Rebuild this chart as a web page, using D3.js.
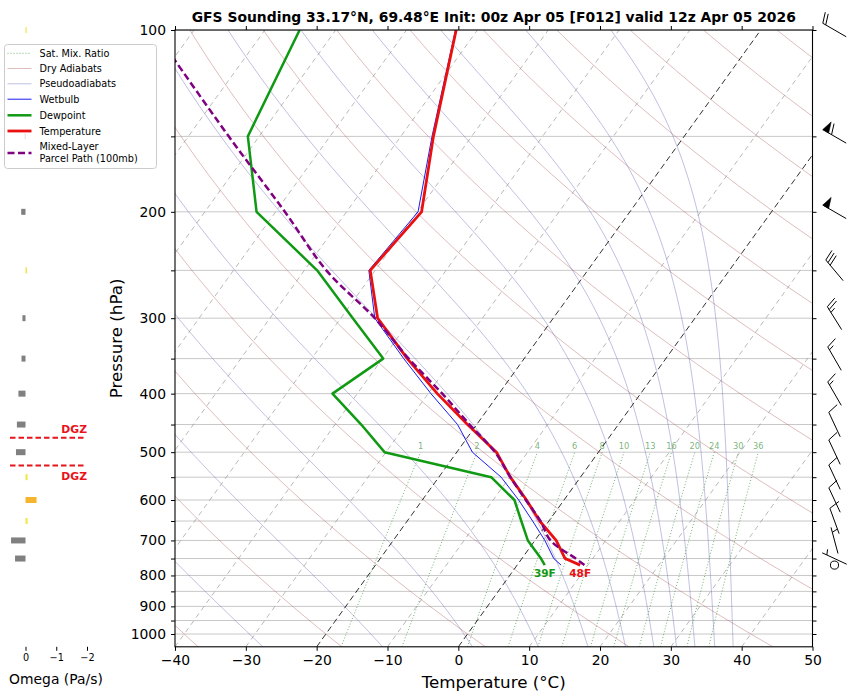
<!DOCTYPE html>
<html>
<head>
<meta charset="utf-8">
<script src="https://cdn.jsdelivr.net/npm/d3@7"></script>
<style>
  body { margin: 0; background: #fff; }
  text { font-family: "DejaVu Sans", sans-serif; }
</style>
</head>
<body>
<svg id="chart" width="850" height="697"></svg>
<script>
// ---- sounding values ----
const levels   = [100, 150, 200, 250, 300, 350, 400, 450, 500, 550, 600, 650, 700, 750, 769];
const tempC    = [-63.0, -55.4, -49.4, -50.7, -44.8, -36.5, -28.7, -21.3, -14.4, -9.9, -5.3, -1.3, 3.0, 6.1, 8.9];
const dewC     = [-85.1, -81.6, -72.7, -58.2, -48.3, -39.9, -43.5, -36.3, -30.2, -12.6, -7.0, -3.9, -1.0, 2.7, 3.9];
const wetbulbC = [-63.1, -55.6, -49.9, -50.9, -45.2, -37.0, -29.6, -22.7, -17.8, -11.2, -6.4, -2.3, 1.4, 4.5, 6.2];

// mixed-layer parcel path
const parcelP = [769, 750, 700, 650, 600, 550, 500, 450, 400, 350, 300, 250, 200, 150, 100];
const parcelT = [9.5, 7.6, 2.2, -1.2, -5.4, -9.9, -14.6, -21.0, -28.0, -36.3, -45.2, -56.9, -68.7, -84.3, -105.7];

// winds (kt, direction from)
const windP   = [100, 150, 200, 250, 300, 350, 400, 450, 500, 550, 600, 650, 700, 750, 769];
const windKt  = [20, 60, 50, 30, 25, 15, 15, 10, 10, 10, 10, 10, 5, 5, 0];
const windDir = [300, 300, 300, 320, 328, 330, 330, 335, 335, 335, 335, 340, 345, 295, 0];

// omega (Pa/s)
const omegaP  = [100, 150, 200, 250, 300, 350, 400, 450, 500, 550, 600, 650, 700, 750];
const omegaPa = [-0.03, 0.03, 0.14, -0.05, 0.10, 0.13, 0.23, 0.28, 0.31, -0.07, -0.36, -0.07, 0.47, 0.34];

// background line sets
const dryT0      = d3.range(-40, 241, 20);              // degC at 1000 hPa
const pseudoBase = [-27.6, -10.7, 2.0, 11.3, 18.3, 23.6, 27.6, 30.8, 33.4, 36.2, 38.8]; // degC at 1050 hPa
const mixRatios  = [1, 2, 4, 6, 8, 10, 13, 16, 20, 24, 30, 36];  // g/kg
const isotherms  = d3.range(-130, 51, 10);
const dgzBounds  = [-12, -18];

const xTicks = d3.range(-40, 51, 10);
const pMajor = [100, 200, 300, 400, 500, 600, 700, 800, 900, 1000];
const pAll   = d3.range(100, 1001, 50);

const titleText = "GFS Sounding 33.17\u00B0N, 69.48\u00B0E Init: 00z Apr 05 [F012] valid 12z Apr 05 2026";

// ---- geometry ----
const box = { left: 175, right: 812.5, top: 30, bottom: 646.8 };
const skewK = 0.72;

const x = d3.scaleLinear().domain([-40, 50]).range([box.left, box.right]);
const y = d3.scaleLog().domain([1050, 100]).range([box.bottom, box.top]);
const sx = (t, p) => x(t) + skewK * (box.bottom - y(p));

const svg = d3.select("#chart");

svg.append("defs").append("clipPath").attr("id", "plotClip")
  .append("rect")
  .attr("x", box.left).attr("y", box.top)
  .attr("width", box.right - box.left).attr("height", box.bottom - box.top);

const plot = svg.append("g").attr("clip-path", "url(#plotClip)");

const skewLine = d3.line().x(d => sx(d[1], d[0])).y(d => y(d[0]));
const pLog = d3.range(0, 121).map(i => 1050 * Math.pow(100 / 1050, i / 120));

// horizontal grid
plot.selectAll(".grid").data(pAll).enter().append("line")
  .attr("x1", box.left).attr("x2", box.right)
  .attr("y1", d => y(d)).attr("y2", d => y(d))
  .attr("stroke", "#c8c8c8").attr("stroke-width", 1);

// dry adiabats
plot.selectAll(".dry").data(dryT0).enter().append("path")
  .attr("d", t0 => skewLine(pLog.map(p => [p, (t0 + 273.15) * Math.pow(p / 1000, 0.2857) - 273.15])))
  .attr("fill", "none").attr("stroke", "#b05a5a").attr("stroke-opacity", 0.5).attr("stroke-width", 0.8);

// pseudoadiabats
function dTdp(p, T) {
  const es = 6.112 * Math.exp(17.67 * (T - 273.15) / (T - 29.65));
  const rs = 0.622 * es / (p - es);
  return (287.04 * T + 2.501e6 * rs) / (1005.7 + 2.501e6 * 2.501e6 * rs * 0.622 / (287.04 * T * T)) / p;
}
function moistPath(tStart) {
  const out = [];
  let T = tStart + 273.15, p = 1050;
  const n = 240, dp = (100 - 1050) / n;
  out.push([p, T - 273.15]);
  for (let i = 0; i < n; i++) {
    const k1 = dTdp(p, T),
          k2 = dTdp(p + dp / 2, T + dp / 2 * k1),
          k3 = dTdp(p + dp / 2, T + dp / 2 * k2),
          k4 = dTdp(p + dp, T + dp * k3);
    T += dp / 6 * (k1 + 2 * k2 + 2 * k3 + k4);
    p += dp;
    out.push([p, T - 273.15]);
  }
  return out;
}
plot.selectAll(".moist").data(pseudoBase).enter().append("path")
  .attr("d", t => skewLine(moistPath(t)))
  .attr("fill", "none").attr("stroke", "#6262b4").attr("stroke-opacity", 0.5).attr("stroke-width", 0.8);

// mixing ratio lines
const tdFromW = (w, p) => {
  const e = p * (w / 1000) / (0.622 + w / 1000);
  const l = Math.log(e / 6.112);
  return 243.5 * l / (17.67 - l);
};
const pMix = d3.range(0, 41).map(i => 1050 * Math.pow(500 / 1050, i / 40));
plot.selectAll(".mix").data(mixRatios).enter().append("path")
  .attr("d", w => skewLine(pMix.map(p => [p, tdFromW(w, p)])))
  .attr("fill", "none").attr("stroke", "#2e8b2e").attr("stroke-opacity", 0.75)
  .attr("stroke-width", 0.9).attr("stroke-dasharray", "1,2");

plot.selectAll(".mixlab").data(mixRatios).enter().append("text")
  .attr("x", w => sx(tdFromW(w, 500), 500))
  .attr("y", y(500) - 3)
  .attr("text-anchor", "middle")
  .attr("font-size", "8.3px")
  .attr("fill", "#2e8b2e").attr("fill-opacity", 0.65)
  .text(w => w);

// isotherms
plot.selectAll(".iso").data(isotherms).enter().append("line")
  .attr("x1", t => sx(t, 1050)).attr("y1", y(1050))
  .attr("x2", t => sx(t, 100)).attr("y2", y(100))
  .attr("stroke", t => (t === 0 || t === -20) ? "#000" : "#8a8a8a")
  .attr("stroke-opacity", t => (t === 0 || t === -20) ? 0.9 : 0.75)
  .attr("stroke-width", t => (t === 0 || t === -20) ? 0.9 : 0.8)
  .attr("stroke-dasharray", t => (t === 0 || t === -20) ? "6,3.5" : "5,4");

// profiles
const profile = vals => levels.map((p, i) => [p, vals[i]]);

plot.append("path").attr("d", skewLine(profile(wetbulbC)))
  .attr("fill", "none").attr("stroke", "#0000ee").attr("stroke-width", 0.9);
plot.append("path").attr("d", skewLine(profile(dewC)))
  .attr("fill", "none").attr("stroke", "#109a14").attr("stroke-width", 2.5).attr("stroke-linejoin", "round");
plot.append("path").attr("d", skewLine(profile(tempC)))
  .attr("fill", "none").attr("stroke", "#ea1010").attr("stroke-width", 2.8).attr("stroke-linejoin", "round");
plot.append("path")
  .attr("d", d3.line().curve(d3.curveCatmullRom).x(d => sx(d[1], d[0])).y(d => y(d[0]))(parcelP.map((p, i) => [p, parcelT[i]])))
  .attr("fill", "none").attr("stroke", "#800080").attr("stroke-width", 2.5).attr("stroke-dasharray", "7,3.5");

// surface labels
const sfc = levels.length - 1;
const toF = c => Math.round(c * 9 / 5 + 32) + "F";
svg.append("text")
  .attr("x", sx(dewC[sfc], levels[sfc])).attr("y", y(levels[sfc]) + 12)
  .attr("text-anchor", "middle").attr("font-size", "10.5px").attr("font-weight", "bold")
  .attr("fill", "#109a14").text(toF(dewC[sfc]));
svg.append("text")
  .attr("x", sx(tempC[sfc], levels[sfc])).attr("y", y(levels[sfc]) + 12)
  .attr("text-anchor", "middle").attr("font-size", "10.5px").attr("font-weight", "bold")
  .attr("fill", "#ea1010").text(toF(tempC[sfc]));

// ---- axes ----
const styleAxis = g => {
  g.select(".domain").remove();
  g.selectAll(".tick line").attr("stroke", "#000").attr("stroke-width", 1);
  g.selectAll(".tick text").attr("fill", "#000").attr("font-family", "DejaVu Sans, sans-serif").attr("font-size", "13.9px");
};

svg.append("g").attr("transform", `translate(0,${box.bottom})`)
  .call(d3.axisBottom(x).tickValues(xTicks).tickSize(4).tickPadding(4)).call(styleAxis);
svg.append("g").attr("transform", `translate(0,${box.top})`)
  .call(d3.axisTop(x).tickValues(xTicks).tickSize(4).tickFormat("")).call(styleAxis);
svg.append("g").attr("transform", `translate(${box.left},0)`)
  .call(d3.axisLeft(y).tickValues(pAll).tickSize(4).tickPadding(5)
    .tickFormat(d => pMajor.includes(d) ? d : "")).call(styleAxis);
svg.append("g").attr("transform", `translate(${box.right},0)`)
  .call(d3.axisRight(y).tickValues(pAll).tickSize(4).tickFormat("")).call(styleAxis);

svg.append("rect")
  .attr("x", box.left).attr("y", box.top)
  .attr("width", box.right - box.left).attr("height", box.bottom - box.top)
  .attr("fill", "none").attr("stroke", "#000").attr("stroke-width", 1.1);

svg.append("text")
  .attr("x", (box.left + box.right) / 2).attr("y", 688)
  .attr("text-anchor", "middle").attr("font-size", "16.7px")
  .text("Temperature (\u00B0C)");
svg.append("text")
  .attr("transform", `translate(122,${(box.top + box.bottom) / 2}) rotate(-90)`)
  .attr("text-anchor", "middle").attr("font-size", "16.7px")
  .text("Pressure (hPa)");
svg.append("text")
  .attr("x", (box.left + box.right) / 2).attr("y", 21.5)
  .attr("text-anchor", "middle").attr("font-size", "13.9px").attr("font-weight", "bold")
  .text(titleText);

// ---- wind barbs ----
const barbX = 834.5, L = 27;
const barbs = svg.append("g");
function drawBarb(cy, spd, dir) {
  if (spd < 5) {
    barbs.append("circle").attr("cx", barbX).attr("cy", cy).attr("r", 0.15 * L)
      .attr("fill", "none").attr("stroke", "#000").attr("stroke-width", 1);
    return;
  }
  const r5 = Math.round(spd / 5) * 5;
  const nFlag = Math.floor(r5 / 50), nBarb = Math.floor((r5 % 50) / 10), half = (r5 % 10) >= 5;
  const rad = dir * Math.PI / 180;
  const d = [Math.sin(rad), -Math.cos(rad)], rt = [Math.cos(rad), Math.sin(rad)];
  const h = 0.4 * L, w = 0.25 * L, sp = 0.125 * L;
  const tip = [barbX + d[0] * L / 2, cy + d[1] * L / 2];
  const base = [barbX - d[0] * L / 2, cy - d[1] * L / 2];
  const at = o => [tip[0] - d[0] * o, tip[1] - d[1] * o];
  barbs.append("line").attr("x1", base[0]).attr("y1", base[1]).attr("x2", tip[0]).attr("y2", tip[1])
    .attr("stroke", "#000").attr("stroke-width", 1);
  let o = 0;
  for (let i = 0; i < nFlag; i++) {
    if (o > 0) o += sp / 2;
    const a = at(o), c = at(o + w);
    const apex = [a[0] + rt[0] * h - d[0] * w / 2, a[1] + rt[1] * h - d[1] * w / 2];
    barbs.append("path").attr("d", `M${a}L${apex}L${c}Z`).attr("fill", "#000").attr("stroke", "#000").attr("stroke-width", 0.6);
    o += w + sp;
  }
  for (let i = 0; i < nBarb; i++) {
    const a = at(o);
    barbs.append("line").attr("x1", a[0]).attr("y1", a[1])
      .attr("x2", a[0] + rt[0] * h + d[0] * w / 2).attr("y2", a[1] + rt[1] * h + d[1] * w / 2)
      .attr("stroke", "#000").attr("stroke-width", 1);
    o += sp;
  }
  if (half) {
    if (o === 0) o += 1.5 * sp;
    const a = at(o);
    barbs.append("line").attr("x1", a[0]).attr("y1", a[1])
      .attr("x2", a[0] + rt[0] * h / 2 + d[0] * w / 4).attr("y2", a[1] + rt[1] * h / 2 + d[1] * w / 4)
      .attr("stroke", "#000").attr("stroke-width", 1);
  }
}
windP.forEach((p, i) => drawBarb(y(p), windKt[i], windDir[i]));

// ---- omega panel ----
const xo = d3.scaleLinear().domain([0, -2]).range([25.5, 87]);
const omegaColor = v => v >= 0 ? "#808080" : (v > -0.1 ? "#f0e84a" : "#f6b52e");
const omega = svg.append("g");
omega.selectAll("rect").data(omegaP).enter().append("rect")
  .attr("x", (p, i) => Math.min(xo(0), xo(omegaPa[i])))
  .attr("y", p => y(p) - 3)
  .attr("width", (p, i) => Math.max(1.2, Math.abs(xo(omegaPa[i]) - xo(0))))
  .attr("height", 6)
  .attr("fill", (p, i) => omegaColor(omegaPa[i]));

omega.append("g").attr("transform", `translate(0,${box.bottom})`)
  .call(d3.axisBottom(xo).tickValues([0, -1, -2]).tickSize(4).tickPadding(3).tickFormat(d3.format("d")))
  .call(styleAxis)
  .selectAll(".tick text").attr("font-size", "9.7px");
omega.append("text").attr("x", 56).attr("y", 684).attr("text-anchor", "middle")
  .attr("font-size", "13.9px").text("Omega (Pa/s)");

// dendritic growth zone
function pAtTemp(tc) {
  for (let i = levels.length - 1; i > 0; i--) {
    const t1 = tempC[i], t2 = tempC[i - 1];
    if ((t1 - tc) * (t2 - tc) <= 0 && t1 !== t2) {
      const f = (tc - t1) / (t2 - t1);
      return Math.exp(Math.log(levels[i]) + f * (Math.log(levels[i - 1]) - Math.log(levels[i])));
    }
  }
  return null;
}
dgzBounds.forEach((tc, i) => {
  const yy = y(pAtTemp(tc));
  omega.append("line").attr("x1", 10).attr("x2", 86).attr("y1", yy).attr("y2", yy)
    .attr("stroke", "#e8141c").attr("stroke-width", 2.2).attr("stroke-dasharray", "5.5,3");
  omega.append("text").attr("x", 87).attr("y", i === 0 ? yy + 14 : yy - 5)
    .attr("text-anchor", "end").attr("font-size", "10.8px").attr("font-weight", "bold")
    .attr("fill", "#e8141c").text("DGZ");
});

// ---- legend ----
const legendItems = [
  { label: ["Sat. Mix. Ratio"], stroke: "#2e8b2e", width: 0.9, dash: "1,2", opacity: 0.75 },
  { label: ["Dry Adiabats"], stroke: "#b05a5a", width: 0.8, dash: null, opacity: 0.5 },
  { label: ["Pseudoadiabats"], stroke: "#6262b4", width: 0.8, dash: null, opacity: 0.5 },
  { label: ["Wetbulb"], stroke: "#0000ee", width: 0.9, dash: null, opacity: 1 },
  { label: ["Dewpoint"], stroke: "#109a14", width: 2.5, dash: null, opacity: 1 },
  { label: ["Temperature"], stroke: "#ea1010", width: 2.8, dash: null, opacity: 1 },
  { label: ["Mixed-Layer", "Parcel Path (100mb)"], stroke: "#800080", width: 2.5, dash: "7,3.5", opacity: 1 }
];
const legend = svg.append("g");
legend.append("rect").attr("x", 4.5).attr("y", 44.5).attr("width", 152).attr("height", 124).attr("rx", 3)
  .attr("fill", "#fff").attr("fill-opacity", 0.8).attr("stroke", "#cccccc").attr("stroke-width", 1);
const rowY = [53.3, 68.5, 83.8, 99.2, 115.3, 131, 153];
legendItems.forEach((it, i) => {
  legend.append("line").attr("x1", 7.5).attr("x2", 31.5).attr("y1", rowY[i]).attr("y2", rowY[i])
    .attr("stroke", it.stroke).attr("stroke-width", it.width).attr("stroke-opacity", it.opacity)
    .attr("stroke-dasharray", it.dash);
  const t = legend.append("text").attr("x", 39.5).attr("font-size", "9.7px").attr("fill", "#000");
  if (it.label.length === 1) {
    t.attr("y", rowY[i] + 3.5).text(it.label[0]);
  } else {
    t.attr("y", rowY[i] - 2.8).text(it.label[0]);
    legend.append("text").attr("x", 39.5).attr("y", rowY[i] + 8.7).attr("font-size", "9.7px").text(it.label[1]);
  }
});
</script>
</body>
</html>
